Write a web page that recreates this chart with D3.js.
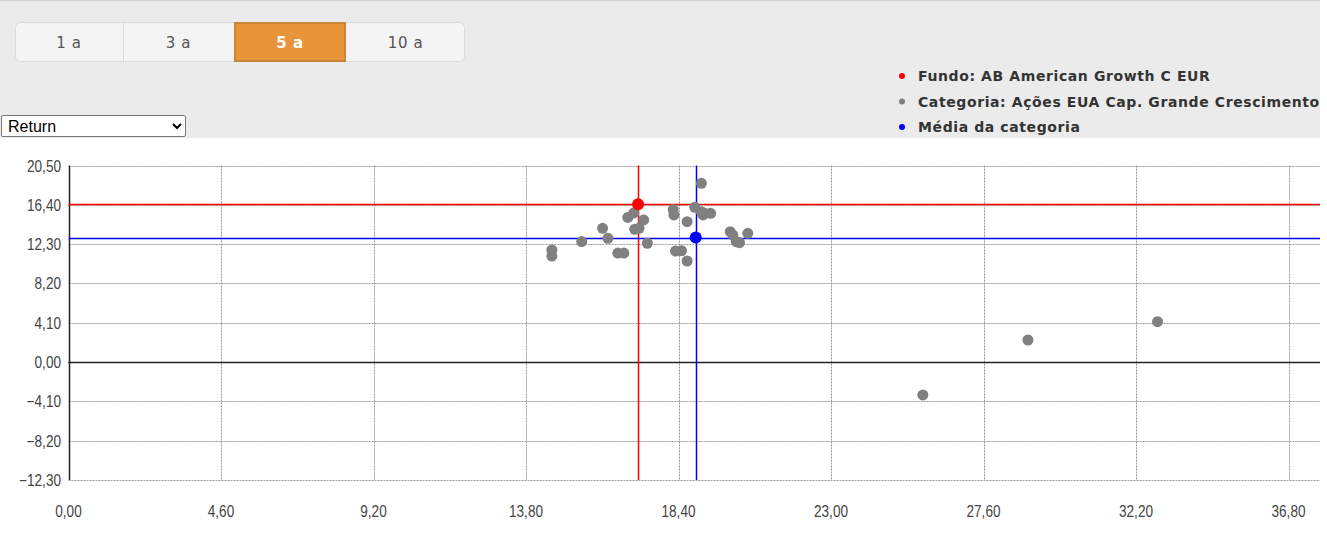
<!DOCTYPE html>
<html>
<head>
<meta charset="utf-8">
<script src="https://cdn.jsdelivr.net/npm/d3@7"></script>
<style>
  body { margin: 0; background: #fff; overflow: hidden; }
  #page { position: relative; width: 1327px; height: 542px; }
  #chart { position: absolute; left: 0; top: 0; }
  #metric { position: absolute; left: 1px; top: 115px; width: 185px; height: 22px;
            font-family: "Liberation Sans", Arial, sans-serif; font-size: 16px;
            border: 1px solid #767676; border-radius: 2px; background: #fff; padding: 0 2px; color: #000; }
</style>
</head>
<body>
<div id="page"><div id="chart"></div></div>
<script>
const width = 1327;
const height = 542;

// period buttons
const periods = ["1 a", "3 a", "5 a", "10 a"];
const activePeriod = "5 a";

// legend
const legendLabels = ["Fundo: AB American Growth C EUR", "Categoria: Ações EUA Cap. Grande Crescimento", "Média da categoria"];
const legendColors = ["#ff0000", "#808080", "#0000ff"];

// axes
const xTicks = [0, 4.6, 9.2, 13.8, 18.4, 23, 27.6, 32.2, 36.8];
const yTicks = [-12.3, -8.2, -4.1, 0, 4.1, 8.2, 12.3, 16.4, 20.5];

// category funds (risk, return)
const categoryRisk = [14.58, 14.58, 15.48, 16.11, 16.27, 16.57, 16.75, 16.87, 17.05, 17.35, 17.08, 17.21, 17.46,
  18.24, 18.26, 18.66, 18.31, 18.49, 18.66, 18.89, 19.09, 19.09, 19.19, 19.37, 19.14,
  19.96, 20.04, 20.14, 20.24, 20.49, 25.77, 28.94, 32.85];
const categoryReturn = [11.69, 11.06, 12.57, 13.95, 12.91, 11.37, 11.37, 15.08, 15.55, 14.82, 13.85, 13.95, 12.39,
  15.91, 15.34, 14.64, 11.58, 11.61, 10.54, 16.14, 18.64, 15.68, 15.51, 15.51, 15.34,
  13.60, 13.25, 12.55, 12.45, 13.43, -3.43, 2.30, 4.21];

const fundRisk = 17.18, fundReturn = 16.45;
const meanRisk = 18.92, meanReturn = 12.99;

const fmt = d => d3.format(".2f")(d).replace(".", ",");
const px = v => Math.round(v) + 0.5;

const xScale = d3.scaleLinear().domain([0, 37.75]).range([68.5, 1320]);
const yScale = d3.scaleLinear().domain([-12.3, 20.5]).range([480, 165.5]);

const svg = d3.select("#chart").append("svg").attr("width", width).attr("height", height);

// header area
svg.append("rect").attr("x", 0).attr("y", 0).attr("width", 1320).attr("height", 138).attr("fill", "#ebebeb");
svg.append("line").attr("x1", 0).attr("x2", 1320).attr("y1", 0.5).attr("y2", 0.5).attr("stroke", "#d0d0d0");

// buttons
const btnX = [15, 123, 234, 346, 465];
const btns = svg.append("g").attr("font-family", "'DejaVu Sans', Verdana, sans-serif").attr("font-size", 15);
btns.append("rect").attr("x", 15.5).attr("y", 22.5).attr("width", 449).attr("height", 39).attr("rx", 5)
  .attr("fill", "#f4f4f4").attr("stroke", "#dcdcdc");
periods.forEach((p, i) => {
  const x0 = btnX[i], x1 = btnX[i + 1];
  const active = p === activePeriod;
  if (active) {
    btns.append("rect").attr("x", x0).attr("y", 22).attr("width", x1 - x0).attr("height", 40)
      .attr("fill", "#e8953a");
    btns.append("rect").attr("x", x0 + 1).attr("y", 23).attr("width", x1 - x0 - 2).attr("height", 38)
      .attr("fill", "none").attr("stroke", "#b87a35").attr("stroke-width", 2).attr("opacity", 0.6);
  } else if (i > 0 && periods[i - 1] !== activePeriod) {
    btns.append("line").attr("x1", x0 + 0.5).attr("x2", x0 + 0.5).attr("y1", 23).attr("y2", 61).attr("stroke", "#dcdcdc");
  }
  btns.append("text").attr("x", (x0 + x1) / 2).attr("y", 48).attr("text-anchor", "middle")
    .attr("letter-spacing", 0.6)
    .attr("fill", active ? "#fff" : "#555").attr("font-weight", active ? "bold" : "normal").text(p);
});

// legend
const legend = svg.append("g").attr("font-family", "'DejaVu Sans', Verdana, sans-serif")
  .attr("font-size", 14).attr("font-weight", "bold").attr("letter-spacing", 0.6);
legendLabels.forEach((l, i) => {
  const y = 76 + i * 25.5;
  legend.append("circle").attr("cx", 902).attr("cy", y).attr("r", 3).attr("fill", legendColors[i]);
  legend.append("text").attr("x", 918).attr("y", y + 5).attr("fill", "#333").text(l);
});

// plot
const plot = svg.append("g");
const axisFont = "'Liberation Sans', Arial, sans-serif";

plot.selectAll(".hgrid").data(yTicks).join("line")
  .attr("x1", xScale(0)).attr("x2", 1320)
  .attr("y1", d => px(yScale(d))).attr("y2", d => px(yScale(d)))
  .attr("stroke", "#999").attr("stroke-dasharray", "2,1");

plot.selectAll(".vgrid").data(xTicks.slice(1)).join("line")
  .attr("x1", d => px(xScale(d))).attr("x2", d => px(xScale(d)))
  .attr("y1", yScale(20.5)).attr("y2", yScale(-12.3))
  .attr("stroke", "#999").attr("stroke-dasharray", "2,1");

// zero line + left axis
plot.append("line").attr("x1", xScale(0)).attr("x2", 1320).attr("y1", px(yScale(0))).attr("y2", px(yScale(0)))
  .attr("stroke", "#222").attr("stroke-width", 1.5);
plot.append("line").attr("x1", px(xScale(0))).attr("x2", px(xScale(0))).attr("y1", yScale(20.5)).attr("y2", yScale(-12.3))
  .attr("stroke", "#222").attr("stroke-width", 1.5);

plot.selectAll(".ylab").data(yTicks).join("text")
  .attr("transform", d => `translate(61,${yScale(d) + 6}) scale(0.85,1)`).attr("text-anchor", "end")
  .attr("font-family", axisFont).attr("font-size", 16).attr("fill", "#444").text(fmt);

plot.selectAll(".xlab").data(xTicks).join("text")
  .attr("transform", d => `translate(${xScale(d)},517) scale(0.85,1)`).attr("text-anchor", "middle")
  .attr("font-family", axisFont).attr("font-size", 16).attr("fill", "#444").text(fmt);

// fund and mean crosshairs
const cross = [[fundRisk, fundReturn, "#ff0000"], [meanRisk, meanReturn, "#0000ff"]];
cross.forEach(([rx, ry, c]) => {
  plot.append("line").attr("x1", xScale(0)).attr("x2", 1320)
    .attr("y1", px(yScale(ry))).attr("y2", px(yScale(ry)))
    .attr("stroke", c).attr("stroke-width", 1.5);
  plot.append("line").attr("x1", px(xScale(rx))).attr("x2", px(xScale(rx)))
    .attr("y1", yScale(20.5)).attr("y2", yScale(-12.3))
    .attr("stroke", c).attr("stroke-width", 1.5);
});

// category dots
plot.selectAll(".dot").data(categoryRisk).join("circle")
  .attr("cx", d => xScale(d)).attr("cy", (d, i) => yScale(categoryReturn[i]))
  .attr("r", 5.5).attr("fill", "#808080");

plot.append("circle").attr("cx", xScale(meanRisk)).attr("cy", yScale(meanReturn)).attr("r", 6).attr("fill", "#0000ff");
plot.append("circle").attr("cx", xScale(fundRisk)).attr("cy", yScale(fundReturn)).attr("r", 6).attr("fill", "#ff0000");

// metric dropdown
const sel = d3.select("#page").append("select").attr("id", "metric");
sel.selectAll("option").data(["Return"]).join("option").text(d => d);
</script>
</body>
</html>
